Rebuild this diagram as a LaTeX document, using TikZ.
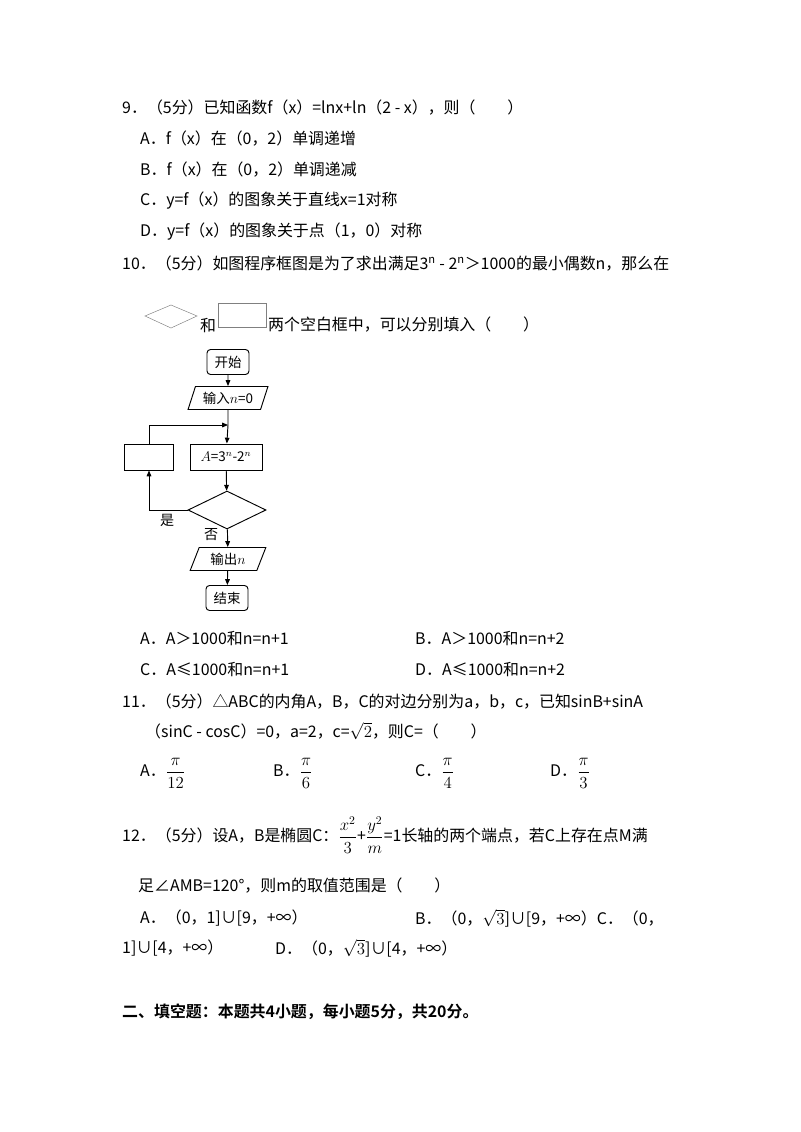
\documentclass[tikz,border=0pt]{standalone}
\usepackage{amsmath}
\usepackage{fontspec}
\setmainfont{Noto Sans CJK SC}
\newfontfamily\bfcjk{Noto Sans CJK SC Bold}
\usetikzlibrary{shapes.geometric,arrows.meta}
\begin{document}
\begin{tikzpicture}[x=0.03cm,y=-0.03cm,
  t/.style={anchor=west,inner sep=0,font=\fontsize{13.6}{16}\selectfont},
  fc/.style={draw,thick,font=\fontsize{11.5}{13}\selectfont,inner sep=2pt},
  arr/.style={-{Triangle[length=5pt,width=4pt]}}]
\useasboundingbox (0,0) rectangle (800,1132);
\node[t] (q9) at (122,108) {9．（5分）已知函数f（x）=lnx+ln（2 - x），则（\hspace{2em}）};
\node[t] (q9a) at (140,139) {A．f（x）在（0，2）单调递增};
\node[t] (q9b) at (140,170) {B．f（x）在（0，2）单调递减};
\node[t] (q9c) at (140,201) {C．y=f（x）的图象关于直线x=1对称};
\node[t] (q9d) at (140,232) {D．y=f（x）的图象关于点（1，0）对称};
\node[t] (q10) at (122,264) {10．（5分）如图程序框图是为了求出满足3\textsuperscript{n} - 2\textsuperscript{n}＞1000的最小偶数n，那么在};
\draw[gray] (145,316)--(171,305)--(197,316)--(171,328)--cycle;
\node[t] (he) at (200,325) {和};
\draw[gray] (218,303) rectangle (266,327);
\node[t] (q10b) at (268,325) {两个空白框中，可以分别填入（\hspace{2em}）};
% flowchart
\node[fc,rounded corners=3pt,minimum width=42*0.03cm,minimum height=25*0.03cm] (st) at (228,362) {开始};
\node[fc,trapezium,trapezium left angle=70,trapezium right angle=110,minimum height=23*0.03cm,minimum width=80*0.03cm,trapezium stretches=true] (in) at (228,398) {输入$n$=0};
\coordinate (j) at (228,425);
\node[fc,minimum width=72*0.03cm,minimum height=26*0.03cm,inner sep=0] (A) at (226,457) {$A$=3$^n$-2$^n$};
\node[fc,minimum width=49*0.03cm,minimum height=26*0.03cm] (L) at (149,457) {};
\node[fc,diamond,minimum width=78*0.03cm,minimum height=38*0.03cm,inner sep=0,aspect=2] (D) at (227,510) {};
\node[fc,trapezium,trapezium left angle=70,trapezium right angle=110,minimum height=23*0.03cm,minimum width=76*0.03cm,trapezium stretches=true] (out) at (228,559) {输出$n$};
\node[fc,rounded corners=3pt,minimum width=42*0.03cm,minimum height=25*0.03cm] (en) at (227,598) {结束};
\draw[thick,arr] (st) -- (in);
\draw[thick] (in) -- (j);
\draw[thick,arr] (j) -- (A);
\draw[thick,arr] (A) -- (D);
\draw[thick,arr] (D) -- (out);
\draw[thick,arr] (out) -- (en);
\draw[thick,arr] (D.west) -| (L.south);
\draw[thick,arr] (L.north) |- (j);
\node[t,font=\fontsize{12}{13}\selectfont] (yes) at (160,520) {是};
\node[t,font=\fontsize{12}{13}\selectfont] (no) at (204,535) {否};
\node[t] (o1) at (140,638) {A．A＞1000和n=n+1};
\node[t] (o2) at (415,638) {B．A＞1000和n=n+2};
\node[t] (o3) at (140,669) {C．A≤1000和n=n+1};
\node[t] (o4) at (415,669) {D．A≤1000和n=n+2};
\node[t] (q11) at (122,702) {11．（5分）△ABC的内角A，B，C的对边分别为a，b，c，已知sinB+sinA};
\node[t] (q11b) at (145,731) {（sinC - cosC）=0，a=2，c=$\sqrt{2}$，则C=（\hspace{2em}）};
\node[t] (a11) at (140,773) {A．$\dfrac{\pi}{12}$};
\node[t] (b11) at (273,773) {B．$\dfrac{\pi}{6}$};
\node[t] (c11) at (415,773) {C．$\dfrac{\pi}{4}$};
\node[t] (d11) at (550,773) {D．$\dfrac{\pi}{3}$};
\node[t] (q12) at (122,835) {12．（5分）设A，B是椭圆C：$\dfrac{x^2}{3}$+$\dfrac{y^2}{m}$=1长轴的两个端点，若C上存在点M满};
\node[t] (q12b) at (138,886) {足∠AMB=120°，则m的取值范围是（\hspace{2em}）};
\node[t] (a12) at (140,918) {A．（0，1]∪[9，+∞）};
\node[t] (b12) at (415,918) {B．（0，$\sqrt{3}$]∪[9，+∞）C．（0，};
\node[t] (c12) at (122,948) {1]∪[4，+∞）};
\node[t] (d12) at (275,948) {D．（0，$\sqrt{3}$]∪[4，+∞）};
\node[t,font=\fontsize{13.6}{16}\selectfont\bfcjk] (sec) at (122,1012) {二、填空题：本题共4小题，每小题5分，共20分。};
\end{tikzpicture}
\end{document}
